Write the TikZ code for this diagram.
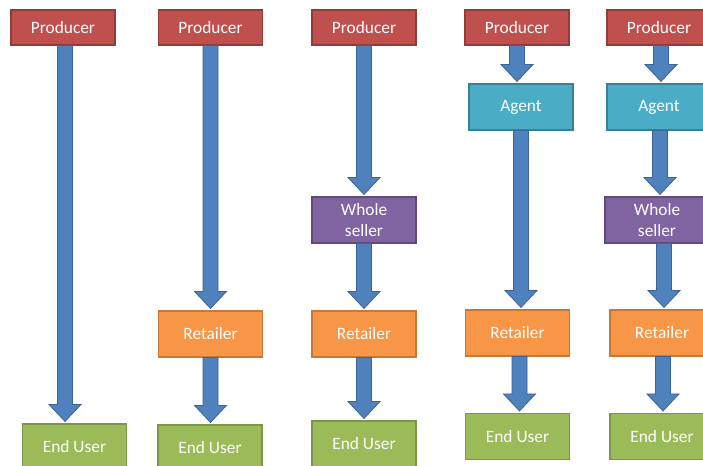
\documentclass[tikz,border=0pt]{standalone}
\usepackage{fontspec}
\setmainfont{Carlito}
\usetikzlibrary{calc}

\definecolor{producerred}{HTML}{C0504D}
\definecolor{agentcyan}{HTML}{4BACC6}
\definecolor{wholepurple}{HTML}{8064A2}
\definecolor{retailorange}{HTML}{F79646}
\definecolor{usergreen}{HTML}{9BBB59}
\definecolor{flowblue}{HTML}{4F81BD}
\definecolor{flowedge}{HTML}{3A649A}

\tikzset{
  box/.style={rectangle, minimum width=78pt, minimum height=34.5pt, inner sep=1pt,
    line width=0.8pt, text=white, align=center,
    font=\fontsize{13}{15.75}\selectfont},
  producer/.style={box, minimum height=26.25pt, fill=producerred, draw=producerred!75!black},
  agent/.style={box, fill=agentcyan, draw=agentcyan!75!black},
  whole/.style={box, fill=wholepurple, draw=wholepurple!75!black},
  retailer/.style={box, fill=retailorange, draw=retailorange!80!black},
  enduser/.style={box, fill=usergreen, draw=usergreen!80!black},
  flowarrow/.style={fill=flowblue, draw=flowedge, line width=0.6pt, line join=miter}
}

% block arrow from one box down to the next, optional sideways shift
\newcommand{\flow}[3][0]{%
  \draw[flowarrow]
    ($(#2.south)+(#1-7.5,0)$) -- ($(#2.south |- #3.north)+(#1-7.5,-19)$)
    -- ++(-8.5,0) -- ($(#2.south |- #3.north)+(#1,-2)$) -- ++(16,-17)
    -- ++(-8.5,0) -- ($(#2.south)+(#1+7.5,0)$) -- cycle;}

\begin{document}
\begin{tikzpicture}[x=0.75pt, y=-0.75pt]
\useasboundingbox (0,0) rectangle (703,466);
\clip (0,0) rectangle (703,466);

% first chain: producer straight to the end user
\node[producer] (prod1) at (63,27.5) {Producer};
\node[enduser] (end1) at (74.5,447) {End User};
\flow[2]{prod1}{end1}

% second chain: through a retailer
\node[producer] (prod2) at (210.5,27.5) {Producer};
\node[retailer] (ret2) at (210.5,334) {Retailer};
\node[enduser] (end2) at (210,448) {End User};
\flow{prod2}{ret2}
\flow{ret2}{end2}

% third chain: whole seller and retailer
\node[producer] (prod3) at (364,27.5) {Producer};
\node[whole] (whole3) at (364,220) {Whole\\seller};
\node[retailer] (ret3) at (364,334) {Retailer};
\node[enduser] (end3) at (364,444) {End User};
\flow{prod3}{whole3}
\flow{whole3}{ret3}
\flow{ret3}{end3}

% fourth chain: agent and retailer
\node[producer] (prod4) at (517,27.5) {Producer};
\node[agent] (agent4) at (521,107) {Agent};
\node[retailer] (ret4) at (517.5,333) {Retailer};
\node[enduser] (end4) at (517.5,436.5) {End User};
\flow{prod4}{agent4}
\flow{agent4}{ret4}
\flow[2]{ret4}{end4}

% fifth chain: every step
\node[producer] (prod5) at (659,27.5) {Producer};
\node[agent] (agent5) at (659,107) {Agent};
\node[whole] (whole5) at (657,220) {Whole\\seller};
\node[retailer] (ret5) at (662,333) {Retailer};
\node[enduser] (end5) at (662,436.5) {End User};
\flow[2]{prod5}{agent5}
\flow[1]{agent5}{whole5}
\flow[7]{whole5}{ret5}
\flow[1]{ret5}{end5}
\end{tikzpicture}
\end{document}
